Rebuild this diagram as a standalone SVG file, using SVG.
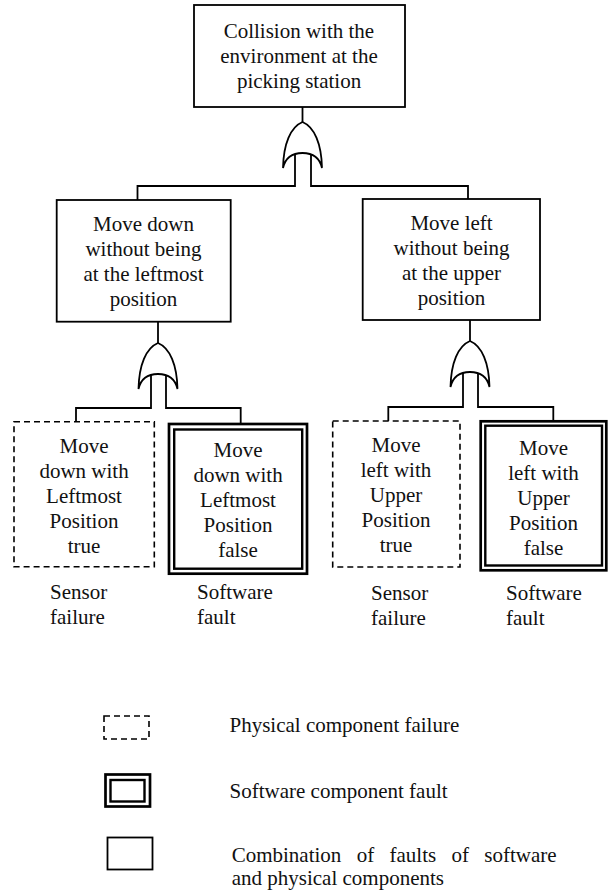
<svg xmlns="http://www.w3.org/2000/svg" width="608" height="890" viewBox="0 0 608 890" font-family="'Liberation Serif', 'Times New Roman', serif" font-size="21">
<style>
  .box { fill: #fff; stroke: #000; stroke-width: 1.8; }
  .dash { fill: #fff; stroke: #000; stroke-width: 1.6; stroke-dasharray: 6 4; }
  .outer { fill: #fff; stroke: #000; stroke-width: 2.7; }
  .inner { fill: none; stroke: #000; stroke-width: 2.4; }
  .wire { fill: none; stroke: #000; stroke-width: 1.8; }
  .gate { fill: #fff; stroke: #000; stroke-width: 1.8; }
</style>
<defs>
  <path id="orgate" d="M0,0 C-12,5 -19,22 -19.5,46 C-17,35 -10,31 0,31 C10,31 17,35 19.5,46 C19,22 12,5 0,0 Z"/>
</defs>

<g id="connectors">
  <path class="wire" d="M302.5,107 V123"/>
  <path class="wire" d="M295,150 V186 H137.5 V200"/>
  <path class="wire" d="M311,150 V186 H468 V199"/>
  <path class="wire" d="M158,321.7 V344"/>
  <path class="wire" d="M151,370 V408 H76 V422"/>
  <path class="wire" d="M166,370 V408 H240.7 V423"/>
  <path class="wire" d="M470,320 V342"/>
  <path class="wire" d="M463,368 V407 H388.3 V421"/>
  <path class="wire" d="M478,368 V407 H553.3 V420"/>
</g>

<g id="gate-top"><use href="#orgate" class="gate" transform="translate(302.5,122)"/></g>
<g id="gate-left"><use href="#orgate" class="gate" transform="translate(158,343)"/></g>
<g id="gate-right"><use href="#orgate" class="gate" transform="translate(470,341)"/></g>

<g id="top-event" fill="#111">
  <rect class="box" x="194" y="5" width="211" height="102"/>
  <text x="223.7" y="38">Collision with the</text>
  <text x="220.3" y="63">environment at the</text>
  <text x="236.9" y="88">picking station</text>
</g>

<g id="move-down-event" fill="#111">
  <rect class="box" x="56.7" y="200" width="174" height="121.7"/>
  <text x="93" y="231">Move down</text>
  <text x="85.4" y="256">without being</text>
  <text x="83.4" y="281">at the leftmost</text>
  <text x="109.7" y="306">position</text>
</g>

<g id="move-left-event" fill="#111">
  <rect class="box" x="362.7" y="199" width="177.3" height="121"/>
  <text x="410.4" y="230">Move left</text>
  <text x="393.5" y="255">without being</text>
  <text x="401.9" y="280">at the upper</text>
  <text x="417.7" y="305">position</text>
</g>

<g id="sensor-left" fill="#111">
  <rect class="dash" x="14" y="421.7" width="140.3" height="145"/>
  <text x="59.5" y="453">Move</text>
  <text x="39.4" y="478">down with</text>
  <text x="46.1" y="503">Leftmost</text>
  <text x="49.6" y="528">Position</text>
  <text x="67.7" y="553">true</text>
  <text x="50" y="599">Sensor</text>
  <text x="50" y="624">failure</text>
</g>

<g id="software-left" fill="#111">
  <rect class="outer" x="169" y="424" width="138" height="149.7"/>
  <rect class="inner" x="174.2" y="429.5" width="128" height="139.2"/>
  <text x="213.5" y="457">Move</text>
  <text x="193.4" y="482">down with</text>
  <text x="200.1" y="507">Leftmost</text>
  <text x="203.6" y="532">Position</text>
  <text x="218.2" y="557">false</text>
  <text x="197" y="599">Software</text>
  <text x="197" y="624">fault</text>
</g>

<g id="sensor-right" fill="#111">
  <rect class="dash" x="332.7" y="421" width="127.3" height="146"/>
  <text x="371.5" y="452">Move</text>
  <text x="360.7" y="477">left with</text>
  <text x="369.8" y="502">Upper</text>
  <text x="361.6" y="527">Position</text>
  <text x="379.7" y="552">true</text>
  <text x="371" y="600">Sensor</text>
  <text x="371" y="625">failure</text>
</g>

<g id="software-right" fill="#111">
  <rect class="outer" x="480.7" y="421.3" width="125.6" height="149"/>
  <rect class="inner" x="485.3" y="425.7" width="116.7" height="139.8"/>
  <text x="519" y="455">Move</text>
  <text x="508.2" y="480">left with</text>
  <text x="517.3" y="505">Upper</text>
  <text x="509.1" y="530">Position</text>
  <text x="523.7" y="555">false</text>
  <text x="506" y="600">Software</text>
  <text x="506" y="625">fault</text>
</g>

<g id="legend-physical" fill="#111">
  <rect class="dash" x="104" y="716" width="45" height="23"/>
  <text x="229.5" y="732">Physical component failure</text>
</g>

<g id="legend-software" fill="#111">
  <rect class="outer" x="105.5" y="774.5" width="44.5" height="32"/>
  <rect class="inner" x="110.5" y="780" width="34" height="21.5"/>
  <text x="229.5" y="798">Software component fault</text>
</g>

<g id="legend-combination" fill="#111">
  <rect class="box" x="107.5" y="837.5" width="45" height="32"/>
  <text y="862"><tspan x="231.7">Combination</tspan><tspan x="356.7">of</tspan><tspan x="389.5">faults</tspan><tspan x="451.5">of</tspan><tspan x="484.3">software</tspan></text>
  <text x="231.7" y="885">and physical components</text>
</g>
</svg>
